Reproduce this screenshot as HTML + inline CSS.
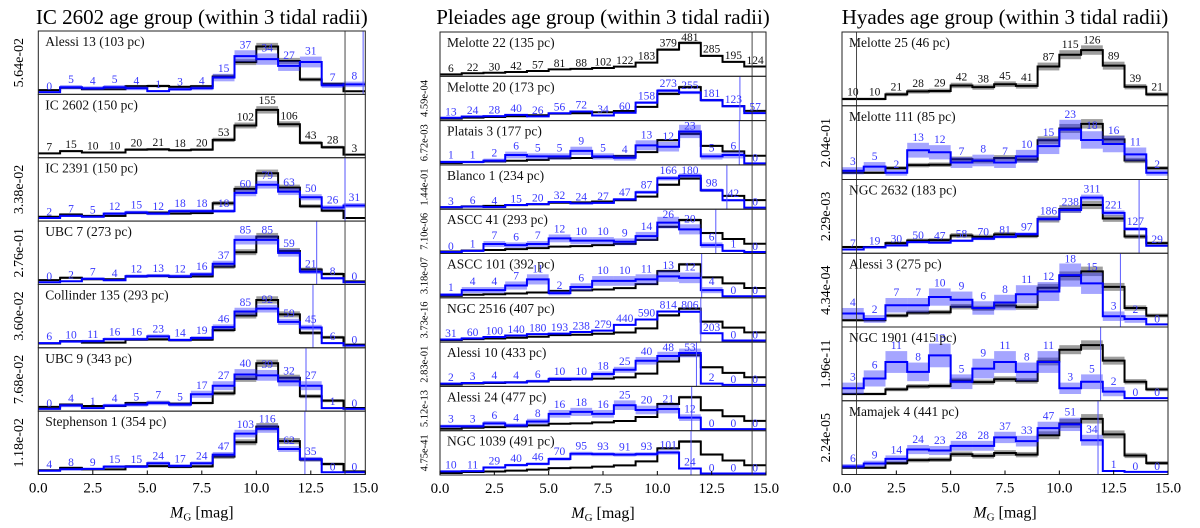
<!DOCTYPE html>
<html><head><meta charset="utf-8"><style>
html,body{margin:0;padding:0;background:#fff;}
svg{display:block;font-family:"Liberation Serif","DejaVu Serif",serif;}
</style></head><body>
<svg id="fig" width="1200" height="528" viewBox="0 0 1200 528" xmlns="http://www.w3.org/2000/svg"></svg>
<script>
// ---- data ----
const xTicks = [0, 2.5, 5, 7.5, 10, 12.5, 15];
const xTickLabels = ["0.0","2.5","5.0","7.5","10.0","12.5","15.0"];
const panelTitles = ["IC 2602 age group (within 3 tidal radii)","Pleiades age group (within 3 tidal radii)","Hyades age group (within 3 tidal radii)"];

const leftNames = ["Alessi 13 (103 pc)","IC 2602 (150 pc)","IC 2391 (150 pc)","UBC 7 (273 pc)","Collinder 135 (293 pc)","UBC 9 (343 pc)","Stephenson 1 (354 pc)"];
const leftPvals = ["5.64e-02","","3.38e-02","2.76e-01","3.60e-02","7.68e-02","1.18e-02"];
const leftLimits = [14.9, null, 14.07, 12.77, 12.6, 12.28, 12.23];
const leftRefLimit = 14.07;
const alessi13 = [0,5,4,5,4,1,3,4,15,37,34,27,31,7,8];
const ic2602 = [7,15,10,10,20,21,18,20,53,102,155,106,43,28,3];
const ic2391 = [2,7,5,12,15,12,18,18,18,60,79,63,50,26,31];
const ubc7 = [0,2,7,4,12,13,12,16,37,85,85,59,21,8,0];
const collinder135 = [6,10,11,16,16,23,14,19,46,85,92,59,45,6,0];
const ubc9 = [0,4,1,4,5,7,5,17,27,40,39,32,27,1,0];
const stephenson1 = [4,8,9,15,15,24,17,24,47,103,116,62,35,0,0];

const midNames = ["Melotte 22 (135 pc)","Melotte 20 (173 pc)","Platais 3 (177 pc)","Blanco 1 (234 pc)","ASCC 41 (293 pc)","ASCC 101 (392 pc)","NGC 2516 (407 pc)","Alessi 10 (433 pc)","Alessi 24 (477 pc)","NGC 1039 (491 pc)"];
const midPvals = ["","4.59e-04","6.72e-03","1.44e-01","7.10e-06","3.18e-07","3.73e-16","2.83e-01","5.12e-13","4.75e-41"];
const midLimits = [null, 13.8, 13.77, 13.2, 12.69, 12.04, 12.0, 11.8, 11.58, 11.55];
const midRefLimit = 14.36;
const melotte22 = [6,22,30,42,57,81,88,102,122,183,379,481,285,195,124];
const melotte20 = [13,24,28,40,26,56,72,34,60,158,273,255,181,123,57];
const platais3 = [1,1,2,6,5,5,9,5,4,13,12,23,5,6,0];
const blanco1 = [3,6,4,15,20,32,24,27,47,87,166,180,98,42,0];
const ascc41 = [0,1,7,6,7,12,10,10,9,14,26,20,6,1,0];
const ascc101 = [1,4,4,7,11,2,6,10,10,11,13,12,4,0,0];
const ngc2516 = [31,60,100,140,180,193,238,279,440,590,814,806,203,0,0];
const alessi10 = [2,3,4,4,6,10,10,18,25,40,48,53,2,0,0];
const alessi24 = [3,3,6,4,8,16,18,16,25,20,21,12,0,0,0];
const ngc1039 = [10,11,29,40,46,70,95,93,91,93,101,24,0,0,0];

const rightNames = ["Melotte 25 (46 pc)","Melotte 111 (85 pc)","NGC 2632 (183 pc)","Alessi 3 (275 pc)","NGC 1901 (415 pc)","Mamajek 4 (441 pc)"];
const rightPvals = ["","2.04e-01","2.29e-03","4.34e-04","1.96e-11","2.24e-05"];
const rightLimits = [null, null, 13.67, 12.81, 11.9, 11.78];
const rightRefLimit = 0.67;
const melotte25 = [10,10,21,28,29,42,38,45,41,87,115,126,89,39,21];
const melotte111 = [3,5,2,13,12,7,8,7,10,15,23,18,16,11,2];
const ngc2632 = [7,19,30,50,47,58,70,81,97,186,238,311,221,127,29];
const alessi3 = [4,2,7,7,10,9,6,8,11,12,18,15,3,2,0];
const ngc1901 = [3,6,11,8,13,5,9,11,8,11,3,5,2,0,0];
const mamajek4 = [6,9,14,24,23,28,28,37,33,47,51,34,1,0,0];

const leftSeries = [alessi13, ic2602, ic2391, ubc7, collinder135, ubc9, stephenson1];
const midSeries = [melotte22, melotte20, platais3, blanco1, ascc41, ascc101, ngc2516, alessi10, alessi24, ngc1039];
const rightSeries = [melotte25, melotte111, ngc2632, alessi3, ngc1901, mamajek4];

// ---- layout ----
const NS = "http://www.w3.org/2000/svg";
const svg = document.getElementById("fig");
function mk(tag, attrs, parent) {
  const e = document.createElementNS(NS, tag);
  for (const k in attrs) e.setAttribute(k, attrs[k]);
  (parent || svg).appendChild(e);
  return e;
}
const panels = [
  {x0:38.3, x1:365.3, top:31, bottom:474.5, refIdx:1, names:leftNames, pvals:leftPvals, limits:leftLimits, refLimit:leftRefLimit, series:leftSeries, pfs:14, px:20, key:"ic2602"},
  {x0:440, x1:766, top:32, bottom:475, refIdx:0, names:midNames, pvals:midPvals, limits:midLimits, refLimit:midRefLimit, series:midSeries, pfs:10.5, px:425, key:"pleiades"},
  {x0:842, x1:1168, top:32, bottom:474.5, refIdx:0, names:rightNames, pvals:rightPvals, limits:rightLimits, refLimit:rightRefLimit, series:rightSeries, pfs:14, px:827, key:"hyades"}
];
function sum(a){return a.reduce((s,v)=>s+v,0);}

panels.forEach((P, pi) => {
  const xs = m => P.x0 + (P.x1 - P.x0) * m / 15;
  const n = P.series.length;
  const rh = (P.bottom - P.top) / n;
  const ref = P.series[P.refIdx];
  const refSum = sum(ref);
  const refN = ref.map(v => v / refSum);
  const g = mk("g", {});
  
  

  const t = mk("text", {x:(P.x0+P.x1)/2, y:24, "text-anchor":"middle", "font-size":21}, g);
  t.textContent = panelTitles[pi];
  
  

  P.series.forEach((cnt, ri) => {
    const top = P.top + ri * rh, bot = top + rh;
    const rg = mk("g", {}, g);
    
    
    const cid = "clip" + pi + "_" + ri;
    const cp = mk("clipPath", {id:cid}, rg);
    mk("rect", {x:P.x0, y:top, width:P.x1-P.x0, height:rh}, cp);
    const inner = mk("g", {"clip-path":"url(#"+cid+")"}, rg);

    const isRef = ri === P.refIdx;
    const s = sum(cnt);
    const norm = cnt.map(v => s ? v / s : 0);
    const vmax = Math.max(Math.max(...refN), isRef ? 0 : Math.max(...norm));
    const base = bot - 0.035 * rh;
    const ys = v => base - v / vmax * 0.72 * rh;

    function drawHist(vals, counts, total, color, band, name) {
      counts.forEach((c, i) => {
        const e = Math.sqrt(c) / total;
        const v = vals[i];
        const r = mk("rect", {x:xs(i), y:ys(v+e), width:xs(i+1)-xs(i), height:Math.max(0, ys(v-e)-ys(v+e)), fill:band}, inner);
        
        
      });
      let d = "M" + xs(0) + "," + ys(vals[0]);
      vals.forEach((v, i) => {
        d += " L" + xs(i+1) + "," + ys(v);
        if (i + 1 < vals.length) d += " L" + xs(i+1) + "," + ys(vals[i+1]);
      });
      const p = mk("path", {d:d, fill:"none", stroke:color, "stroke-width":2}, inner);
      
      
    }
    drawHist(refN, ref, refSum, "#000", "rgba(0,0,0,0.38)", "reference");
    if (!isRef) drawHist(norm, cnt, s, "#0000ff", "rgba(40,40,255,0.42)", "cluster");

    // vertical limit lines
    const vl = mk("line", {x1:xs(P.refLimit), x2:xs(P.refLimit), y1:top, y2:bot, stroke:"#333", "stroke-width":0.9}, inner);
    
    
    if (!isRef && P.limits[ri] !== null) {
      const bl = mk("line", {x1:xs(P.limits[ri]), x2:xs(P.limits[ri]), y1:top, y2:bot, stroke:"#5a5aff", "stroke-width":1}, inner);
      
      
    }

    // count labels
    const vals = isRef ? refN : norm;
    const tot = isRef ? refSum : s;
    cnt.forEach((c, i) => {
      const e = Math.sqrt(c) / tot;
      let ly = ys(vals[i] + e) - 2;
      if (ly < top + 9) ly = top + 9;
      const lt = mk("text", {x:(xs(i)+xs(i+1))/2, y:ly, "text-anchor":"middle", "font-size":11.5, fill: isRef ? "#111" : "#3838ff"}, rg);
      lt.textContent = c;
      
      
    });

    const nm = mk("text", {x:P.x0+7, y:top+15, "font-size":13.5, fill:"#111"}, rg);
    nm.textContent = P.names[ri];
    
    

    if (P.pvals[ri]) {
      const cy = top + rh/2;
      const pv = mk("text", {x:P.px, y:cy, "text-anchor":"middle", "font-size":P.pfs, transform:"rotate(-90 "+P.px+" "+cy+")", "dominant-baseline":"middle"}, rg);
      pv.textContent = P.pvals[ri];
      
      
    }

    const fr = mk("rect", {x:P.x0, y:top, width:P.x1-P.x0, height:rh, fill:"none", stroke:"#222", "stroke-width":1}, rg);
    
    
  });

  xTicks.forEach((tv, i) => {
    mk("line", {x1:xs(tv), x2:xs(tv), y1:P.bottom, y2:P.bottom-4, stroke:"#000", "stroke-width":1}, g);
    const tl = mk("text", {x:xs(tv), y:P.bottom+18, "text-anchor":"middle", "font-size":15}, g);
    tl.textContent = xTickLabels[i];
    
    
  });
  const xl = mk("text", {x:(P.x0+P.x1)/2, y:P.bottom+43, "text-anchor":"middle", "font-size":16}, g);
  xl.innerHTML = '<tspan font-style="italic">M</tspan><tspan font-size="11" dy="3">G</tspan><tspan dy="-3"> [mag]</tspan>';
  
  
});
</script>
</body></html>
